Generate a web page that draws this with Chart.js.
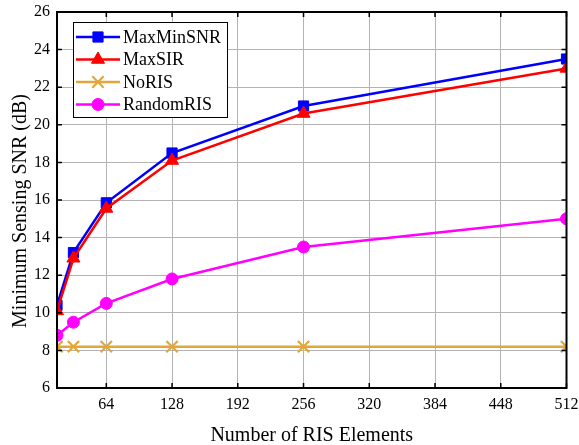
<!DOCTYPE html>
<html><head><meta charset="utf-8">
<script src="https://cdn.jsdelivr.net/npm/chart.js@4/dist/chart.umd.min.js"></script>
<style>html,body{margin:0;padding:0;background:#fff;}canvas{display:block;}</style>
</head><body>
<canvas id="c" width="579" height="445"></canvas>
<script>
const nElements = [16, 32, 64, 128, 256, 512];
const maxMinSNR = [10.4, 13.2, 15.85, 18.5, 21.0, 23.5];
const maxSIR = [10.1, 12.9, 15.55, 18.1, 20.6, 23.0];
const noRIS = [8.2, 8.2, 8.2, 8.2, 8.2, 8.2];
const randomRIS = [8.8, 9.5, 10.5, 11.8, 13.5, 15.0];
const xTicks = [64, 128, 192, 256, 320, 384, 448, 512];
const yTicks = [6, 8, 10, 12, 14, 16, 18, 20, 22, 24, 26];
const seriesNames = ['MaxMinSNR', 'MaxSIR', 'NoRIS', 'RandomRIS'];
const xTitle = 'Number of RIS Elements';
const yTitle = 'Minimum Sensing SNR (dB)';

const FONT = '"Liberation Serif", "Times New Roman", serif';
const colors = ['#0000ff', '#ff0000', '#e2a73c', '#ff00ff'];
const styles = ['rect', 'triangle', 'crossRot', 'circle'];
const radii = [7.2, 7.5, 8, 6];

function pts(ys) { return nElements.map((x, i) => ({x: x, y: ys[i]})); }
const allSeries = [maxMinSNR, maxSIR, noRIS, randomRIS];

const datasets = allSeries.map((s, i) => ({
  label: seriesNames[i],
  data: pts(s),
  borderColor: colors[i],
  backgroundColor: colors[i],
  borderWidth: 2.5,
  pointStyle: styles[i],
  pointRadius: radii[i],
  pointBorderWidth: styles[i] === 'crossRot' ? 2.2 : 1,
  pointBackgroundColor: colors[i],
  pointBorderColor: colors[i],
  tension: 0,
  order: 4 - i
}));

function drawMarker(ctx, style, r, x, y, color, bw) {
  ctx.save();
  ctx.fillStyle = color; ctx.strokeStyle = color; ctx.lineWidth = bw;
  Chart.helpers.drawPoint(ctx, {pointStyle: style, radius: r, borderWidth: bw}, x, y);
  ctx.restore();
}

const framePlugin = {
  id: 'frame',
  afterDatasetsDraw(chart) {
    const ctx = chart.ctx, a = chart.chartArea;
    const xs = chart.scales.x, ys = chart.scales.y;
    ctx.save();
    ctx.strokeStyle = '#000';
    ctx.lineWidth = 1.5;
    const L = 5;
    ctx.beginPath();
    xTicks.forEach(v => {
      const px = xs.getPixelForValue(v);
      ctx.moveTo(px, a.bottom); ctx.lineTo(px, a.bottom - L);
      ctx.moveTo(px, a.top); ctx.lineTo(px, a.top + L);
    });
    yTicks.forEach(v => {
      const py = ys.getPixelForValue(v);
      ctx.moveTo(a.left, py); ctx.lineTo(a.left + L, py);
      ctx.moveTo(a.right, py); ctx.lineTo(a.right - L, py);
    });
    ctx.stroke();
    ctx.lineWidth = 2;
    ctx.strokeRect(a.left, a.top, a.right - a.left, a.bottom - a.top);

    // y title
    ctx.save();
    ctx.translate(21, 211);
    ctx.rotate(-Math.PI / 2);
    ctx.font = '20px ' + FONT;
    ctx.fillStyle = '#000';
    ctx.textAlign = 'center';
    ctx.textBaseline = 'middle';
    ctx.fillText(yTitle, 0, 0);
    ctx.restore();

    // legend
    const bx = 73, by = 22, bw = 154, bh = 95;
    ctx.fillStyle = '#fff';
    ctx.fillRect(bx, by, bw, bh);
    ctx.lineWidth = 1;
    ctx.strokeStyle = '#000';
    ctx.strokeRect(bx + 0.5, by + 0.5, bw, bh);
    ctx.font = '18px ' + FONT;
    ctx.textBaseline = 'middle';
    ctx.textAlign = 'left';
    seriesNames.forEach((name, i) => {
      const y = 37 + i * 22.5;
      ctx.strokeStyle = colors[i];
      ctx.lineWidth = 2.5;
      ctx.beginPath(); ctx.moveTo(76, y); ctx.lineTo(120, y); ctx.stroke();
      drawMarker(ctx, styles[i], radii[i], 98, y, colors[i], styles[i] === 'crossRot' ? 2.2 : 1);
      ctx.fillStyle = '#000';
      ctx.fillText(name, 123, y + 1);
    });
    ctx.restore();
  }
};

new Chart(document.getElementById('c'), {
  type: 'line',
  data: { datasets: datasets },
  options: {
    responsive: false,
    animation: false,
    layout: { padding: { top: 12, right: 12.5, left: 0, bottom: 0 } },
    plugins: { legend: { display: false }, tooltip: { enabled: false } },
    scales: {
      x: {
        type: 'linear', min: 16, max: 512,
        afterBuildTicks: s => { s.ticks = xTicks.map(v => ({value: v})); },
        afterFit: s => { s.height = 57; s.paddingLeft = 0; s.paddingRight = 0; },
        grid: { color: '#b3b3b3', lineWidth: 1, drawTicks: false },
        border: { display: false },
        ticks: { font: { family: FONT, size: 16 }, color: '#000', padding: 7, maxRotation: 0, autoSkip: false },
        title: { display: true, text: xTitle, font: { family: FONT, size: 20 }, color: '#000', padding: { top: 0, bottom: -3 } }
      },
      y: {
        type: 'linear', min: 6, max: 26,
        afterBuildTicks: s => { s.ticks = yTicks.map(v => ({value: v})); },
        afterFit: s => { s.width = 57; s.paddingTop = 0; s.paddingBottom = 0; },
        grid: { color: '#b3b3b3', lineWidth: 1, drawTicks: false },
        border: { display: false },
        ticks: { font: { family: FONT, size: 16 }, color: '#000', padding: 7 },
        title: { display: false }
      }
    }
  },
  plugins: [framePlugin]
});
</script>
</body></html>
